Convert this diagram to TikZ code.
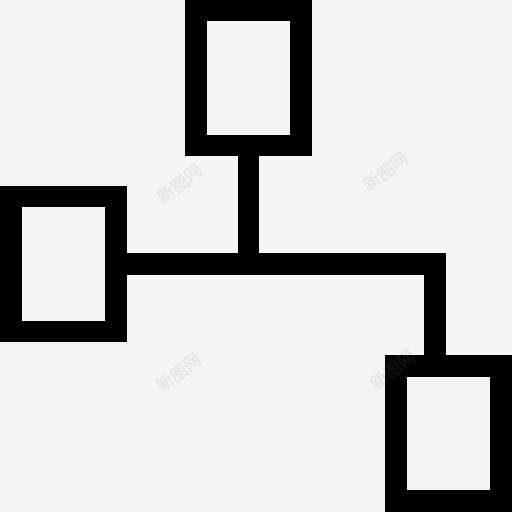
\documentclass[tikz,border=0pt]{standalone}
\usepackage{fontspec}
\newfontfamily\cjk{Noto Sans CJK SC}
\usetikzlibrary{positioning}
\usepackage{xcolor}
\definecolor{bgcol}{RGB}{245,245,245}

\tikzset{
	block/.style={draw=black, line width=21.5pt, minimum width=105pt, minimum height=135pt, inner sep=0pt},
	wire/.style={draw=black, line width=21.5pt},
	mark text/.style={text=gray, opacity=0.18, rotate=38, font=\cjk\fontsize{17}{17}\selectfont}
}

\begin{document}
			\begin{tikzpicture}[x=1pt,y=-1pt]
				\fill[bgcol] (0,0) rectangle (512,512);
				\useasboundingbox (0,0) rectangle (512,512);
				\node[block] (top) at (248.25,78) {};
				\node[block] (left) at (63.5,264) {};
				\node[block] (right) at (448.5,433.5) {};
				\coordinate (bend) at (435,264);
				\draw[wire] (top.south) -- (top.south |- left.east);
				\draw[wire] (left.east) -- (bend) -- (bend |- right.north);
				\node[mark text] (mark1) at (180,184) {新图网};
				\node[mark text] (mark2) at (386,172) {新图网};
				\node[mark text] (mark3) at (179,373) {新图网};
				\node[mark text] (mark4) at (393,370) {新图网};
			\end{tikzpicture}
\end{document}
